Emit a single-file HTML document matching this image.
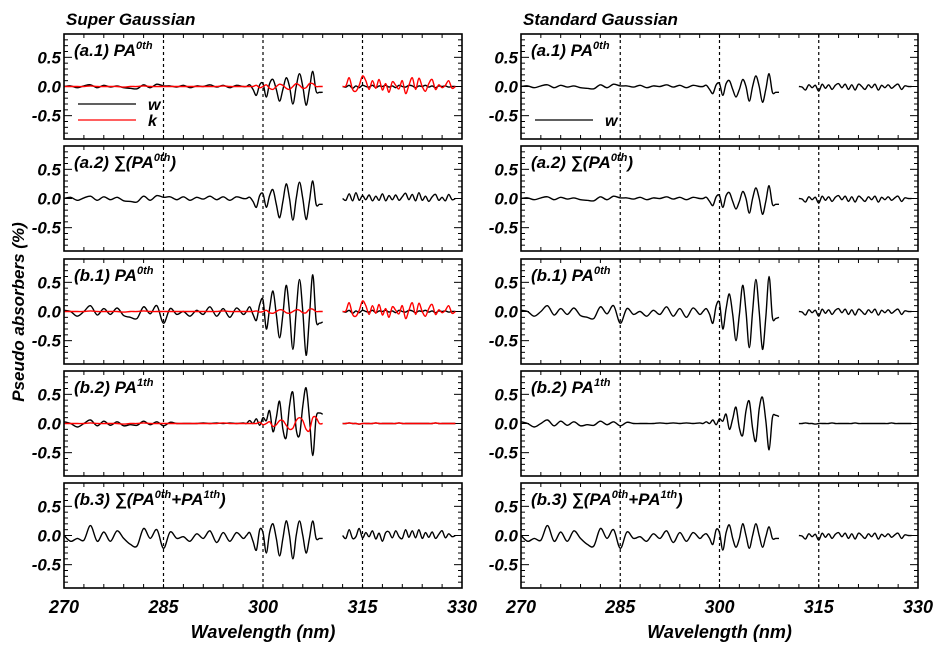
<!DOCTYPE html>
<html><head><meta charset="utf-8">
<style>
html,body{margin:0;padding:0;background:#fff;}
svg{display:block;font-family:"Liberation Sans",Arial,sans-serif;font-weight:bold;font-style:italic;}
</style></head>
<body>
<svg id="chart" width="950" height="652" viewBox="0 0 950 652"></svg>
<script>
// ---- data ----
const wavelengths = [270,271,272,273,274,275,276,277,278,279,280,281,282,283,284,285,286,287,288,289,290,291,292,293,294,295,296,297,
297.5,298,298.5,299,299.5,300,300.5,301,301.5,302,302.5,303,303.5,304,304.5,305,305.5,306,306.5,307,307.5,308,308.5,309,
312,312.5,313,313.5,314,314.5,315,315.5,316,316.5,317,317.5,318,318.5,319,319.5,320,320.5,321,321.5,322,322.5,323,323.5,324,324.5,325,325.5,326,326.5,327,327.5,328,328.5,329];
const yTicks = [0.5, 0.0, -0.5];
const yTickLabels = ["0.5","0.0","-0.5"];
const xTicks = [270,285,300,315,330];
const xTickLabels = ["270","285","300","315","330"];
const refLines = [285,300,315];

const flatSmall = [0,0.01,-0.02,0.01,0.03,-0.02,0.02,-0.01,0.01,-0.02,-0.03,-0.04,0.03,-0.02,0.04,0.01,0.01,-0.01,0.02,-0.02,0.01,0,0.03,-0.01,0.02,-0.02,0.02,0];
const flatMid = [0,0.02,-0.03,0.01,0.04,-0.03,0.03,-0.02,0.02,-0.04,-0.05,-0.06,0.04,-0.03,0.05,0.02,0.03,-0.02,0.03,-0.03,0.02,-0.01,0.04,-0.02,0.03,-0.03,0.03,0];
const flatB1 = [0.02,0,-0.08,0,0.1,-0.06,0.05,-0.05,0.06,-0.07,-0.1,-0.12,0.08,-0.04,0.1,-0.2,0.05,-0.05,0,-0.08,0.02,-0.05,0.08,-0.08,0.05,-0.1,0.06,-0.05];
const flatB2 = [0.03,0,-0.06,0,0.06,-0.04,0.04,-0.03,0.03,-0.04,-0.02,-0.03,0.04,-0.02,0.03,-0.04,0.02,0,0,0,0,0.01,0,0.01,0,0.01,0,0.01];
const flatB3 = [0,-0.1,-0.05,-0.08,0.17,-0.1,0.06,-0.1,0.08,-0.05,-0.15,-0.18,0.12,-0.05,0.1,-0.22,0.06,-0.05,-0.02,-0.1,0.03,-0.05,0.08,-0.12,0.05,-0.1,0.05,-0.05];
const flatZero = [0,0,0,0,0.01,0,0,0,0,-0.01,0,0,0.01,0,0,0,0,0,0,0,0,0,0,0,0.01,0,0,0];

const oscA1w = [0,0.03,-0.05,-0.15,0.03,0.05,-0.18,0.05,0.12,-0.05,-0.25,-0.05,0.15,0,-0.3,0,0.22,0,-0.32,-0.05,0.26,-0.08,-0.1,-0.1];
const oscA1k = [0,0,0,0.02,-0.02,0,0.03,-0.03,-0.05,0,0.04,0.02,-0.03,-0.05,0,0.05,0.02,-0.03,-0.02,0.05,0.05,0,0,0];
const oscA2 = [0,0.02,-0.05,-0.15,0.05,0.08,-0.15,0.05,0.15,-0.1,-0.33,-0.05,0.25,0,-0.37,0,0.28,0,-0.36,-0.05,0.3,-0.1,-0.1,-0.1];
const oscB1w = [0,0.08,-0.05,-0.15,0.12,0.2,-0.3,0.05,0.35,-0.05,-0.45,-0.05,0.45,0,-0.65,0,0.55,0,-0.75,-0.1,0.63,-0.15,-0.2,-0.18];
const oscB1k = [0,0,0,0.01,-0.01,0,0.02,-0.02,-0.03,0,0.03,0.02,-0.02,-0.03,0,0.03,0.02,-0.02,-0.02,0.04,0.04,0,0,0];
const oscB2w = [0,0.05,0,0.08,-0.03,0.1,0.05,0.22,-0.14,0.1,0.38,-0.1,-0.24,0.3,0.53,-0.1,-0.2,0.3,0.61,0.1,-0.55,0.1,0.18,0.16];
const oscB2k = [0,0,0,0,0.02,-0.02,0,0.03,-0.05,-0.02,0.05,0.05,-0.03,-0.1,-0.08,0.05,0.1,0.05,-0.1,-0.12,0.1,0.1,0,0];
const oscB3 = [0,0.05,-0.1,-0.25,0.1,0.05,-0.3,0.05,0.2,-0.05,-0.35,-0.05,0.25,0,-0.4,0,0.25,0,-0.3,-0.05,0.25,-0.05,-0.05,-0.05];
const oscRA = [0,0.02,-0.05,-0.12,0.03,0.05,-0.15,0.05,0.1,-0.05,-0.18,-0.05,0.12,0,-0.25,0,0.18,0,-0.27,-0.05,0.22,-0.1,-0.1,-0.1];
const oscRB1 = [0,0.05,-0.05,-0.2,0.1,0.15,-0.3,0.05,0.3,-0.05,-0.5,-0.05,0.45,0,-0.62,0,0.55,0,-0.65,-0.1,0.6,-0.1,-0.12,-0.1];
const oscRB2 = [0,0.03,0,0.06,-0.02,0.08,0.04,0.16,-0.1,0.08,0.28,-0.08,-0.2,0.22,0.38,-0.08,-0.3,0.25,0.45,0.05,-0.45,0.1,0.14,0.12];
const oscRB3 = [0,0.03,-0.05,-0.15,0.1,0.05,-0.25,0.05,0.18,-0.05,-0.2,-0.05,0.2,0,-0.22,0,0.2,0,-0.2,-0.02,0.15,-0.05,-0.05,-0.05];

const seg2Small = [0,-0.01,0.02,-0.03,0.01,-0.02,0.02,0,-0.01,0.02,-0.02,0.01,0,0.02,-0.01,0.01,-0.02,0.02,0,-0.01,0.02,0.01,-0.02,0.01,0,0.02,-0.01,0.01,-0.02,0.01,0,0.01,-0.01,0,0];
const seg2K = [0,0.01,0.15,-0.05,-0.08,0.02,0.18,0.1,-0.05,0.1,-0.03,0.12,-0.06,0.05,-0.1,0.08,0.02,-0.04,0.1,-0.12,0.02,0.15,-0.05,0.14,0,-0.08,0.05,0.12,-0.05,0.03,-0.02,0.02,0.1,-0.03,0];
const seg2A2 = [0,-0.03,0.08,-0.04,0.1,-0.03,0.05,-0.02,0.06,-0.04,0.04,-0.03,0.08,-0.04,0.05,-0.02,0.06,-0.03,0.03,0.09,-0.02,0.07,-0.04,0.1,-0.03,0.04,-0.05,0.03,0.07,-0.03,0.02,-0.04,0.07,-0.02,0];
const seg2B3 = [0,-0.05,0.1,-0.05,-0.02,0.12,-0.04,0.05,-0.02,0.08,-0.06,0.04,-0.1,0.05,0.06,-0.04,0.08,-0.02,-0.05,0.1,-0.03,0.08,-0.04,0.1,-0.05,0.05,-0.03,0.06,-0.05,0.02,0.08,-0.04,0.03,-0.02,0];
const seg2R = [0,-0.01,-0.06,0.03,-0.02,0.02,-0.08,0.04,-0.03,0.03,-0.05,0.02,0.05,-0.02,0.04,-0.05,0.03,-0.06,0.04,0,-0.05,0.03,-0.02,0.04,-0.06,0.02,-0.02,0.03,-0.03,0.01,0.04,-0.05,0.01,0,0];
const seg2Zero = [0,0,0.01,0,0,-0.01,0,0,0,0,0.01,0,0,0,0,0,0,0.01,0,0,0,0,0,0,0,0,0,0,0.01,0,0,0,0,0,0];

const leftA1w = [...flatSmall, ...oscA1w, ...seg2Small];
const leftA1k = [...flatZero, ...oscA1k, ...seg2K];
const leftA2w = [...flatMid, ...oscA2, ...seg2A2];
const leftB1w = [...flatB1, ...oscB1w, ...seg2Small];
const leftB1k = [...flatZero, ...oscB1k, ...seg2K];
const leftB2w = [...flatB2, ...oscB2w, ...seg2Zero];
const leftB2k = [...flatZero, ...oscB2k, ...seg2Zero];
const leftB3w = [...flatB3, ...oscB3, ...seg2B3];
const rightA1w = [...flatSmall, ...oscRA, ...seg2R];
const rightA2w = [...flatSmall, ...oscRA, ...seg2R];
const rightB1w = [...flatB1, ...oscRB1, ...seg2R];
const rightB2w = [...flatB2, ...oscRB2, ...seg2Zero];
const rightB3w = [...flatB3, ...oscRB3, ...seg2R];

// ---- layout ----
const NS = "http://www.w3.org/2000/svg";
const svg = document.getElementById("chart");
const cols = [{x0:64,x1:462,title:"Super Gaussian"},{x0:521,x1:918,title:"Standard Gaussian"}];
const rowTops = [34,146,259,371,483];
const PH = 105;
const Y0 = -0.9, Y1 = 0.9;
function el(tag, attrs, parent){const e=document.createElementNS(NS,tag);for(const k in attrs)e.setAttribute(k,attrs[k]);(parent||svg).appendChild(e);return e;}
function xs(c,w){return c.x0+(w-270)/60*(c.x1-c.x0);}
function ys(top,v){return top+(Y1-v)/(Y1-Y0)*PH;}
function smoothPath(pts){
  let d="M"+pts[0][0].toFixed(1)+" "+pts[0][1].toFixed(1);
  for(let i=0;i<pts.length-1;i++){
    const p0=pts[Math.max(0,i-1)],p1=pts[i],p2=pts[i+1],p3=pts[Math.min(pts.length-1,i+2)];
    const c1x=p1[0]+(p2[0]-p0[0])/6, c1y=p1[1]+(p2[1]-p0[1])/6;
    const c2x=p2[0]-(p3[0]-p1[0])/6, c2y=p2[1]-(p3[1]-p1[1])/6;
    d+=" C"+c1x.toFixed(1)+" "+c1y.toFixed(1)+" "+c2x.toFixed(1)+" "+c2y.toFixed(1)+" "+p2[0].toFixed(1)+" "+p2[1].toFixed(1);
  }
  return d;
}

const panels = [
 {col:0,row:0,label:["(a.1) PA","0th",""],series:[[leftA1w,"#000"],[leftA1k,"#f00"]],legend:["w","k"]},
 {col:0,row:1,label:["(a.2) \u2211(PA","0th",")"],series:[[leftA2w,"#000"]]},
 {col:0,row:2,label:["(b.1) PA","0th",""],series:[[leftB1w,"#000"],[leftB1k,"#f00"]]},
 {col:0,row:3,label:["(b.2) PA","1th",""],series:[[leftB2w,"#000"],[leftB2k,"#f00"]]},
 {col:0,row:4,label:["(b.3) \u2211(PA","0th","+PA","1th",")"],series:[[leftB3w,"#000"]]},
 {col:1,row:0,label:["(a.1) PA","0th",""],series:[[rightA1w,"#000"]],legend:["w"]},
 {col:1,row:1,label:["(a.2) \u2211(PA","0th",")"],series:[[rightA2w,"#000"]]},
 {col:1,row:2,label:["(b.1) PA","0th",""],series:[[rightB1w,"#000"]]},
 {col:1,row:3,label:["(b.2) PA","1th",""],series:[[rightB2w,"#000"]]},
 {col:1,row:4,label:["(b.3) \u2211(PA","0th","+PA","1th",")"],series:[[rightB3w,"#000"]]}
];

cols.forEach((c,ci)=>{
  const t=el("text",{x:c.x0+2,y:25,"font-size":"17"});t.textContent=c.title;
  
  
});

panels.forEach((p,pi)=>{
  const c=cols[p.col], top=rowTops[p.row];
  const g=el("g",{});
  
  
  for(let k=-8;k<=8;k++){
    const v=k/10, y=ys(top,v), L=(k%5===0)?8:4;
    el("line",{x1:c.x0,x2:c.x0+L,y1:y,y2:y,stroke:"#000","stroke-width":1},g);
    el("line",{x1:c.x1,x2:c.x1-L,y1:y,y2:y,stroke:"#000","stroke-width":1},g);
  }
  for(let w=273;w<330;w+=3){
    const x=xs(c,w);
    el("line",{x1:x,x2:x,y1:top,y2:top+4,stroke:"#000","stroke-width":1},g);
    el("line",{x1:x,x2:x,y1:top+PH,y2:top+PH-4,stroke:"#000","stroke-width":1},g);
  }
  refLines.forEach(w=>{
    const x=xs(c,w);
    const l=el("line",{x1:x,x2:x,y1:top,y2:top+PH,stroke:"#000","stroke-width":1.2,"stroke-dasharray":"3,3"},g);
    
    
  });
  yTicks.forEach((v,i)=>{
    const t=el("text",{x:c.x0-3,y:ys(top,v)+6,"font-size":"17","text-anchor":"end"},g);
    t.textContent=yTickLabels[i];
    
    
  });
  p.series.forEach(([vals,color],si)=>{
    const segs=[]; let cur=[], prev=null;
    wavelengths.forEach((w,i)=>{
      const v=vals[i]===undefined?0:vals[i];
      if(prev!==null && w-prev>2){segs.push(cur);cur=[];}
      cur.push([xs(c,w),ys(top,v)]);
      prev=w;
    });
    segs.push(cur);
    const d=segs.map(smoothPath).join(" ");
    const path=el("path",{d:d,fill:"none",stroke:color,"stroke-width":1.4,"stroke-linejoin":"round"},g);
    
    
  });
  const fr=el("rect",{x:c.x0,y:top,width:c.x1-c.x0,height:PH,fill:"none",stroke:"#000","stroke-width":1.6},g);
  
  
  const t=el("text",{x:c.x0+10,y:top+22,"font-size":"17"},g);
  
  
  p.label.forEach((s,i)=>{
    const ts=el("tspan",{},t);
    if(i%2===1){ts.setAttribute("font-size","11");ts.setAttribute("dy","-7");}
    else if(i>0){ts.setAttribute("dy","7");}
    ts.textContent=s;
  });
  if(p.legend){
    const colors=["#000","#f00"];
    p.legend.forEach((name,li)=>{
      const ly = p.col===0 ? top+70+li*16 : top+86;
      const lx0 = c.x0+14;
      const lx1 = lx0+58;
      const ln=el("line",{x1:lx0,x2:lx1,y1:ly,y2:ly,stroke:colors[li],"stroke-width":1.3},g);
      
      
      const lt=el("text",{x:lx1+12,y:ly+6,"font-size":"16"},g);
      lt.textContent=name;
      
      
    });
  }
  if(p.row===4){
    xTicks.forEach((w,i)=>{
      const xt=el("text",{x:xs(c,w),y:613,"font-size":"18","text-anchor":"middle"},g);
      xt.textContent=xTickLabels[i];
      
      
    });
    const xt=el("text",{x:(c.x0+c.x1)/2,y:638,"font-size":"18","text-anchor":"middle"},g);
    xt.textContent="Wavelength (nm)";
    
    
  }
});
const yt=el("text",{x:0,y:0,"font-size":"17","text-anchor":"middle",transform:"translate(24,312) rotate(-90)"});
yt.textContent="Pseudo absorbers (%)";


</script>
</body></html>
